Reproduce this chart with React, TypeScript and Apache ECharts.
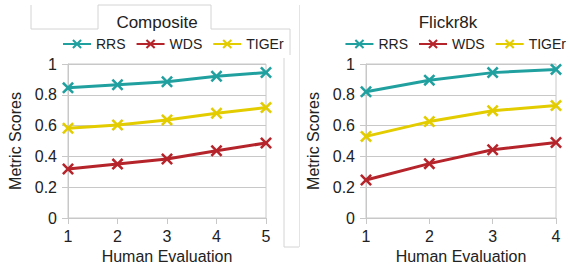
import React, { useEffect, useRef } from "react";
import * as echarts from "echarts";

const seriesNames = ["RRS", "WDS", "TIGEr"];
const colors = ["#21a0a0", "#b6242b", "#e3cc00"];

const compositeCats = ["1", "2", "3", "4", "5"];
const compositeRRS = [0.845, 0.865, 0.885, 0.92, 0.945];
const compositeWDS = [0.318, 0.35, 0.383, 0.437, 0.487];
const compositeTIGEr = [0.583, 0.604, 0.637, 0.68, 0.717];

const flickrCats = ["1", "2", "3", "4"];
const flickrRRS = [0.82, 0.895, 0.944, 0.965];
const flickrWDS = [0.247, 0.353, 0.443, 0.49];
const flickrTIGEr = [0.53, 0.626, 0.697, 0.73];

const titles = ["Composite", "Flickr8k"];
const xName = "Human Evaluation";
const yName = "Metric Scores";

const XSYM =
  "path://M0,1.5 L1.5,0 L5,3.5 L8.5,0 L10,1.5 L6.5,5 L10,8.5 L8.5,10 L5,6.5 L1.5,10 L0,8.5 L3.5,5 Z";

const FONT = "'Liberation Sans', Arial, sans-serif";
const TXT = "#222";
const GRAYL = "#c8c8c8";

export default function App() {
  const ref = useRef<HTMLDivElement>(null);
  useEffect(() => {
    if (!ref.current) return;
    document.body.style.margin = "0";
    document.body.style.overflow = "hidden";
    const chart = echarts.init(ref.current, undefined, { renderer: "svg" });
    const grids = [
      { left: 68, top: 64, width: 198, height: 154 },
      { left: 366, top: 64, width: 190, height: 154 },
    ];
    const catsList = [compositeCats, flickrCats];
    const dataList = [
      [compositeRRS, compositeWDS, compositeTIGEr],
      [flickrRRS, flickrWDS, flickrTIGEr],
    ];
    const xAxes = grids.map((g, i) => ({
      type: "category",
      gridIndex: i,
      data: catsList[i],
      boundaryGap: false,
      name: xName,
      nameLocation: "middle",
      nameGap: 30,
      nameTextStyle: { fontSize: 16, color: TXT, fontFamily: FONT },
      axisLine: { show: true, lineStyle: { color: GRAYL, width: 1 } },
      axisTick: { show: true, length: 6, lineStyle: { color: GRAYL } },
      axisLabel: { fontSize: 16, color: TXT, fontFamily: FONT, margin: 10 },
      splitLine: { show: false },
    }));
    const yAxes = grids.map((g, i) => ({
      type: "value",
      gridIndex: i,
      min: 0,
      max: 1,
      interval: 0.2,
      name: yName,
      nameLocation: "middle",
      nameGap: 45,
      nameTextStyle: { fontSize: 16, color: TXT, fontFamily: FONT },
      axisLine: { show: true, lineStyle: { color: GRAYL, width: 1 } },
      axisTick: { show: true, length: 6, lineStyle: { color: GRAYL } },
      axisLabel: { fontSize: 16, color: TXT, fontFamily: FONT, margin: 11 },
      splitLine: { show: true, lineStyle: { color: GRAYL, width: 1 } },
    }));
    const series: any[] = [];
    [0, 1].forEach((gi) => {
      seriesNames.forEach((n, si) => {
        series.push({
          type: "line",
          name: n,
          xAxisIndex: gi,
          yAxisIndex: gi,
          data: dataList[gi][si],
          symbol: XSYM,
          symbolSize: 12,
          lineStyle: { color: colors[si], width: 3 },
          itemStyle: { color: colors[si] },
          z: si === 0 ? 4 : 3,
        });
      });
    });
    const lineStyle = { stroke: "#d4d4d4", lineWidth: 1, fill: null };
    const legendBase = {
      data: seriesNames,
      top: 37,
      padding: 0,
      orient: "horizontal",
      itemWidth: 28,
      itemHeight: 12,
      itemGap: 10,
      textStyle: { fontSize: 14, color: TXT, fontFamily: FONT },
    };
    const option: any = {
      animation: false,
      backgroundColor: "#fff",
      title: [
        {
          text: titles[0],
          left: 152,
          top: 9,
          textAlign: "center",
          textStyle: { fontSize: 17, fontWeight: "normal", color: TXT, fontFamily: FONT },
        },
        {
          text: titles[1],
          left: 443,
          top: 9,
          textAlign: "center",
          textStyle: { fontSize: 17, fontWeight: "normal", color: TXT, fontFamily: FONT },
        },
      ],
      legend: [
        { ...legendBase, left: 62 },
        { ...legendBase, right: 4 },
      ],
      grid: grids.map((g) => ({ ...g, show: true, borderColor: GRAYL, borderWidth: 1 })),
      xAxis: xAxes,
      yAxis: yAxes,
      series,
      graphic: [
        { type: "polyline", shape: { points: [[31, 5], [31, 29], [98, 29]] }, style: lineStyle, silent: true },
        {
          type: "polyline",
          shape: { points: [[98, 29], [98, 5], [211, 5], [211, 29], [290, 29], [290, 55]] },
          style: lineStyle,
          silent: true,
        },
        { type: "polyline", shape: { points: [[284, 58], [284, 247], [299, 247]] }, style: lineStyle, silent: true },
        { type: "line", shape: { x1: 299.5, y1: 5, x2: 299.5, y2: 247 }, style: { stroke: "#e4e4e4", lineWidth: 1 }, silent: true },
      ],
    };
    chart.setOption(option);
    return () => chart.dispose();
  }, []);
  return <div ref={ref} style={{ position: "absolute", left: 0, top: 0, width: 570, height: 270 }} />;
}
